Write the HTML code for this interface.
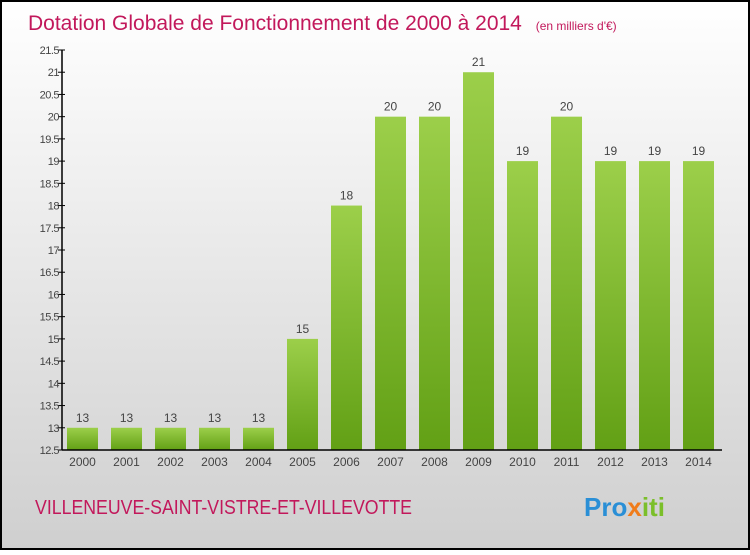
<!DOCTYPE html>
<html><head><meta charset="utf-8"><style>
html,body{margin:0;padding:0}
body{width:750px;height:550px;overflow:hidden;font-family:"Liberation Sans",sans-serif}
</style></head><body>
<svg width="750" height="550">
<defs>
<linearGradient id="bg" x1="0" y1="0" x2="0" y2="1"><stop offset="0" stop-color="#ffffff"/><stop offset="1" stop-color="#cfcfcf"/></linearGradient>
<linearGradient id="bar" x1="0" y1="0" x2="0" y2="1"><stop offset="0" stop-color="#9ccf4a"/><stop offset="1" stop-color="#62a015"/></linearGradient>
</defs>
<rect x="1" y="1" width="748" height="548" fill="url(#bg)" stroke="#000" stroke-width="2"/>
<text x="28" y="30" font-size="21" fill="#c2185b">Dotation Globale de Fonctionnement de 2000 à 2014 <tspan font-size="12" dx="8">(en milliers d'€)</tspan></text>
<g id="yaxis"></g>
<g id="bars"></g>
<g id="xaxis"></g>
<text x="35" y="514" font-size="20" fill="#c2185b" textLength="377" lengthAdjust="spacingAndGlyphs">VILLENEUVE-SAINT-VISTRE-ET-VILLEVOTTE</text>
<text x="584" y="516" font-size="26" font-weight="bold"><tspan fill="#2a8fd6">Pro</tspan><tspan fill="#f07c1a">x</tspan><tspan fill="#7bbf2a">iti</tspan></text>
</svg>
<script>
const years=["2000","2001","2002","2003","2004","2005","2006","2007","2008","2009","2010","2011","2012","2013","2014"];
const values=[13,13,13,13,13,15,18,20,20,21,19,20,19,19,19];
const yTicks=[12.5,13,13.5,14,14.5,15,15.5,16,16.5,17,17.5,18,18.5,19,19.5,20,20.5,21,21.5];
const NS="http://www.w3.org/2000/svg";
const x0=62,y0=450,yTop=50,vmin=12.5,vmax=21.5;
const y=v=>y0-(v-vmin)/(vmax-vmin)*(y0-yTop);
const xc=i=>82.5+i*44;
function mk(t,a,p){const e=document.createElementNS(NS,t);for(const k in a)e.setAttribute(k,a[k]);p.appendChild(e);return e;}
const ya=document.getElementById('yaxis'),bg=document.getElementById('bars'),xa=document.getElementById('xaxis');
mk('line',{x1:x0,y1:yTop,x2:x0,y2:y0,stroke:'#000','stroke-width':1.5},ya);
mk('line',{x1:x0,y1:y0,x2:722,y2:y0,stroke:'#000','stroke-width':1.5},xa);
yTicks.forEach(t=>{
 const l=mk('line',{x1:x0-4,y1:y(t),x2:x0+3,y2:y(t),stroke:'#000'},ya);
 
 
 const tx=mk('text',{x:x0-3,y:y(t)+4,'font-size':11,'text-anchor':'end',fill:'#444','letter-spacing':'-0.5'},ya);
 tx.textContent=String(t);
 
 
});
years.forEach((yr,i)=>{
 const v=values[i];
 const r=mk('rect',{x:xc(i)-15.5,y:y(v),width:31,height:y0-y(v),fill:'url(#bar)'},bg);
 
 
 const vl=mk('text',{x:xc(i),y:y(v)-6,'font-size':12,'text-anchor':'middle',fill:'#444'},bg);
 vl.textContent=v;
 
 
 const xl=mk('text',{x:xc(i),y:466,'font-size':12,'text-anchor':'middle',fill:'#444'},xa);
 xl.textContent=yr;
 
 
});
</script>
</body></html>
